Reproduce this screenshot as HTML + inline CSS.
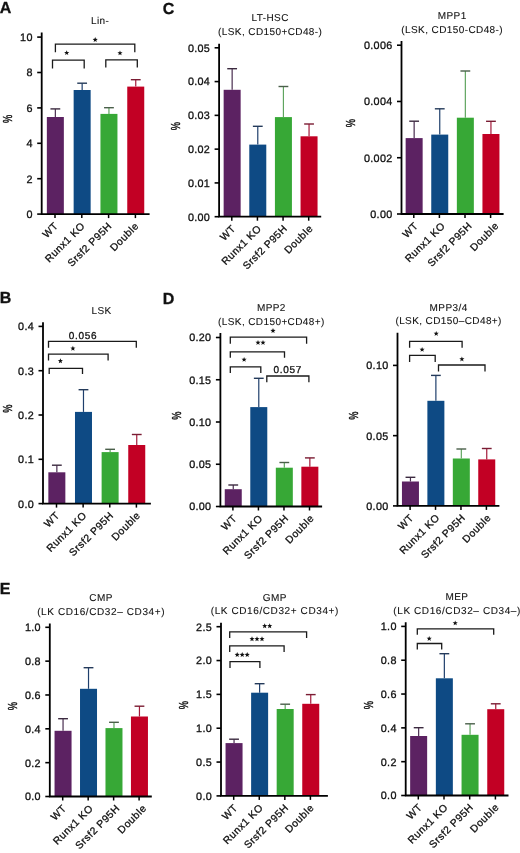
<!DOCTYPE html>
<html><head><meta charset="utf-8"><style>
html,body{margin:0;padding:0;background:#fff;}
svg{display:block;will-change:transform;}
.ti{stroke-width:0.1px;}
text{font-family:"Liberation Sans",sans-serif;fill:#111;text-rendering:geometricPrecision;stroke:#111;stroke-width:0.3px;}
</style></head><body>
<svg width="520" height="853" viewBox="0 0 520 853">
<rect width="520" height="853" fill="#fff"/>
<rect x="46.85" y="117" width="17" height="97.1" fill="#5c2262"/>
<path d="M55.35 117V108.9" stroke="#4a2e50" stroke-width="1.2" fill="none"/>
<path d="M50.45 108.9H60.25" stroke="#3b2a3f" stroke-width="1.4" fill="none"/>
<line x1="55" y1="214.1" x2="55" y2="218.1" stroke="#000" stroke-width="1.5"/>
<text transform="translate(58.4,226.9) rotate(-45)" text-anchor="end" font-size="10.3" letter-spacing="0.5" dx="0.5">WT</text>
<rect x="73.65" y="90" width="17" height="124.1" fill="#0e4a84"/>
<path d="M82.15 90V83.2" stroke="#1f3f6c" stroke-width="1.2" fill="none"/>
<path d="M77.25 83.2H87.05" stroke="#243a5a" stroke-width="1.4" fill="none"/>
<line x1="81.8" y1="214.1" x2="81.8" y2="218.1" stroke="#000" stroke-width="1.5"/>
<text transform="translate(85.27,226.9) rotate(-45)" text-anchor="end" font-size="10.3" letter-spacing="0.5" dx="0.5">Runx1 KO</text>
<rect x="100.45" y="113.9" width="17" height="100.2" fill="#37a836"/>
<path d="M108.95 113.9V107.7" stroke="#5fa55f" stroke-width="1.2" fill="none"/>
<path d="M104.05 107.7H113.85" stroke="#4a5f4a" stroke-width="1.4" fill="none"/>
<line x1="108.6" y1="214.1" x2="108.6" y2="218.1" stroke="#000" stroke-width="1.5"/>
<text transform="translate(112.13,226.9) rotate(-45)" text-anchor="end" font-size="10.3" letter-spacing="0.5" dx="0.5">Srsf2 P95H</text>
<rect x="127.25" y="86.6" width="17" height="127.5" fill="#c20024"/>
<path d="M135.75 86.6V79.7" stroke="#a31a3a" stroke-width="1.2" fill="none"/>
<path d="M130.85 79.7H140.65" stroke="#7a1c33" stroke-width="1.4" fill="none"/>
<line x1="135.4" y1="214.1" x2="135.4" y2="218.1" stroke="#000" stroke-width="1.5"/>
<text transform="translate(139,226.9) rotate(-45)" text-anchor="end" font-size="10.3" letter-spacing="0.5" dx="0.5">Double</text>
<path d="M41.7 32.5V214.1H149.6" stroke="#000" stroke-width="1.8" fill="none"/>
<line x1="37.2" y1="214.1" x2="41.7" y2="214.1" stroke="#000" stroke-width="1.6"/>
<text transform="translate(32.4,218)" text-anchor="end" font-size="10.8" letter-spacing="0.3" dx="0.3">0</text>
<line x1="37.2" y1="178.7" x2="41.7" y2="178.7" stroke="#000" stroke-width="1.6"/>
<text transform="translate(32.4,182.6)" text-anchor="end" font-size="10.8" letter-spacing="0.3" dx="0.3">2</text>
<line x1="37.2" y1="143.3" x2="41.7" y2="143.3" stroke="#000" stroke-width="1.6"/>
<text transform="translate(32.4,147.2)" text-anchor="end" font-size="10.8" letter-spacing="0.3" dx="0.3">4</text>
<line x1="37.2" y1="107.9" x2="41.7" y2="107.9" stroke="#000" stroke-width="1.6"/>
<text transform="translate(32.4,111.8)" text-anchor="end" font-size="10.8" letter-spacing="0.3" dx="0.3">6</text>
<line x1="37.2" y1="72.5" x2="41.7" y2="72.5" stroke="#000" stroke-width="1.6"/>
<text transform="translate(32.4,76.4)" text-anchor="end" font-size="10.8" letter-spacing="0.3" dx="0.3">8</text>
<line x1="37.2" y1="37.1" x2="41.7" y2="37.1" stroke="#000" stroke-width="1.6"/>
<text transform="translate(32.4,41)" text-anchor="end" font-size="10.8" letter-spacing="0.3" dx="0.3">10</text>
<text transform="translate(11.62,118.9) rotate(-90) scale(1,1.4)" text-anchor="middle" font-size="9.3">%</text>
<text class="ti" transform="translate(99.9,24.2)" text-anchor="middle" font-size="10" letter-spacing="0.4" dx="0.2">Lin-</text>
<path d="M55.4 52.2V44.1H134.8V52.2" fill="none" stroke="#1a1a1a" stroke-width="1.3"/>
<polygon points="95.20,37.10 95.88,38.87 97.77,38.97 96.29,40.16 96.79,41.98 95.20,40.95 93.61,41.98 94.11,40.16 92.63,38.97 94.52,38.87" fill="#111"/>
<path d="M52.5 68.5V60.2H84.2V68.5" fill="none" stroke="#1a1a1a" stroke-width="1.3"/>
<polygon points="66.70,50.20 67.38,51.97 69.27,52.07 67.79,53.26 68.29,55.08 66.70,54.05 65.11,55.08 65.61,53.26 64.13,52.07 66.02,51.97" fill="#111"/>
<path d="M105.8 67.5V59.8H137.3V67.5" fill="none" stroke="#1a1a1a" stroke-width="1.3"/>
<polygon points="120.00,50.40 120.68,52.17 122.57,52.27 121.09,53.46 121.59,55.28 120.00,54.25 118.41,55.28 118.91,53.46 117.43,52.27 119.32,52.17" fill="#111"/>
<rect x="223.65" y="89.8" width="17" height="126.9" fill="#5c2262"/>
<path d="M232.15 89.8V68.7" stroke="#4a2e50" stroke-width="1.2" fill="none"/>
<path d="M227.25 68.7H237.05" stroke="#3b2a3f" stroke-width="1.4" fill="none"/>
<line x1="231.8" y1="216.7" x2="231.8" y2="220.7" stroke="#000" stroke-width="1.5"/>
<text transform="translate(235.9,229.5) rotate(-45)" text-anchor="end" font-size="10.3" letter-spacing="0.5" dx="0.5">WT</text>
<rect x="249.28" y="144.6" width="17" height="72.1" fill="#0e4a84"/>
<path d="M257.78 144.6V126.3" stroke="#1f3f6c" stroke-width="1.2" fill="none"/>
<path d="M252.88 126.3H262.68" stroke="#243a5a" stroke-width="1.4" fill="none"/>
<line x1="257.43" y1="216.7" x2="257.43" y2="220.7" stroke="#000" stroke-width="1.5"/>
<text transform="translate(261.7,229.5) rotate(-45)" text-anchor="end" font-size="10.3" letter-spacing="0.5" dx="0.5">Runx1 KO</text>
<rect x="274.92" y="117.1" width="17" height="99.6" fill="#37a836"/>
<path d="M283.42 117.1V86.5" stroke="#5fa55f" stroke-width="1.2" fill="none"/>
<path d="M278.52 86.5H288.32" stroke="#4a5f4a" stroke-width="1.4" fill="none"/>
<line x1="283.07" y1="216.7" x2="283.07" y2="220.7" stroke="#000" stroke-width="1.5"/>
<text transform="translate(287.5,229.5) rotate(-45)" text-anchor="end" font-size="10.3" letter-spacing="0.5" dx="0.5">Srsf2 P95H</text>
<rect x="300.55" y="136.3" width="17" height="80.4" fill="#c20024"/>
<path d="M309.05 136.3V124" stroke="#a31a3a" stroke-width="1.2" fill="none"/>
<path d="M304.15 124H313.95" stroke="#7a1c33" stroke-width="1.4" fill="none"/>
<line x1="308.7" y1="216.7" x2="308.7" y2="220.7" stroke="#000" stroke-width="1.5"/>
<text transform="translate(313.3,229.5) rotate(-45)" text-anchor="end" font-size="10.3" letter-spacing="0.5" dx="0.5">Double</text>
<path d="M219.1 43.8V216.7H321.2" stroke="#000" stroke-width="1.8" fill="none"/>
<line x1="214.6" y1="216.7" x2="219.1" y2="216.7" stroke="#000" stroke-width="1.6"/>
<text transform="translate(209.8,220.6)" text-anchor="end" font-size="10.8" letter-spacing="0.3" dx="0.3">0.00</text>
<line x1="214.6" y1="182.92" x2="219.1" y2="182.92" stroke="#000" stroke-width="1.6"/>
<text transform="translate(209.8,186.82)" text-anchor="end" font-size="10.8" letter-spacing="0.3" dx="0.3">0.01</text>
<line x1="214.6" y1="149.14" x2="219.1" y2="149.14" stroke="#000" stroke-width="1.6"/>
<text transform="translate(209.8,153.04)" text-anchor="end" font-size="10.8" letter-spacing="0.3" dx="0.3">0.02</text>
<line x1="214.6" y1="115.36" x2="219.1" y2="115.36" stroke="#000" stroke-width="1.6"/>
<text transform="translate(209.8,119.26)" text-anchor="end" font-size="10.8" letter-spacing="0.3" dx="0.3">0.03</text>
<line x1="214.6" y1="81.58" x2="219.1" y2="81.58" stroke="#000" stroke-width="1.6"/>
<text transform="translate(209.8,85.48)" text-anchor="end" font-size="10.8" letter-spacing="0.3" dx="0.3">0.04</text>
<line x1="214.6" y1="47.8" x2="219.1" y2="47.8" stroke="#000" stroke-width="1.6"/>
<text transform="translate(209.8,51.7)" text-anchor="end" font-size="10.8" letter-spacing="0.3" dx="0.3">0.05</text>
<text transform="translate(179.72,126) rotate(-90) scale(1,1.4)" text-anchor="middle" font-size="9.3">%</text>
<text class="ti" transform="translate(270,21.3)" text-anchor="middle" font-size="10" letter-spacing="0.4" dx="0.2">LT-HSC</text>
<text class="ti" transform="translate(270,34.7)" text-anchor="middle" font-size="10" letter-spacing="0.4" dx="0.2">(LSK, CD150+CD48-)</text>
<rect x="405.65" y="138.1" width="17" height="75.9" fill="#5c2262"/>
<path d="M414.15 138.1V121.2" stroke="#4a2e50" stroke-width="1.2" fill="none"/>
<path d="M409.25 121.2H419.05" stroke="#3b2a3f" stroke-width="1.4" fill="none"/>
<line x1="413.8" y1="214" x2="413.8" y2="218" stroke="#000" stroke-width="1.5"/>
<text transform="translate(418.4,226.8) rotate(-45)" text-anchor="end" font-size="10.3" letter-spacing="0.5" dx="0.5">WT</text>
<rect x="431.25" y="134.6" width="17" height="79.4" fill="#0e4a84"/>
<path d="M439.75 134.6V108.8" stroke="#1f3f6c" stroke-width="1.2" fill="none"/>
<path d="M434.85 108.8H444.65" stroke="#243a5a" stroke-width="1.4" fill="none"/>
<line x1="439.4" y1="214" x2="439.4" y2="218" stroke="#000" stroke-width="1.5"/>
<text transform="translate(445.3,226.8) rotate(-45)" text-anchor="end" font-size="10.3" letter-spacing="0.5" dx="0.5">Runx1 KO</text>
<rect x="456.85" y="117.7" width="17" height="96.3" fill="#37a836"/>
<path d="M465.35 117.7V71" stroke="#5fa55f" stroke-width="1.2" fill="none"/>
<path d="M460.45 71H470.25" stroke="#4a5f4a" stroke-width="1.4" fill="none"/>
<line x1="465" y1="214" x2="465" y2="218" stroke="#000" stroke-width="1.5"/>
<text transform="translate(472.2,226.8) rotate(-45)" text-anchor="end" font-size="10.3" letter-spacing="0.5" dx="0.5">Srsf2 P95H</text>
<rect x="482.45" y="134" width="17" height="80" fill="#c20024"/>
<path d="M490.95 134V121.3" stroke="#a31a3a" stroke-width="1.2" fill="none"/>
<path d="M486.05 121.3H495.85" stroke="#7a1c33" stroke-width="1.4" fill="none"/>
<line x1="490.6" y1="214" x2="490.6" y2="218" stroke="#000" stroke-width="1.5"/>
<text transform="translate(499.1,226.8) rotate(-45)" text-anchor="end" font-size="10.3" letter-spacing="0.5" dx="0.5">Double</text>
<path d="M401.5 41V214H503.6" stroke="#000" stroke-width="1.8" fill="none"/>
<line x1="397" y1="214" x2="401.5" y2="214" stroke="#000" stroke-width="1.6"/>
<text transform="translate(392.2,217.9)" text-anchor="end" font-size="10.8" letter-spacing="0.3" dx="0.3">0.00</text>
<line x1="397" y1="157.73" x2="401.5" y2="157.73" stroke="#000" stroke-width="1.6"/>
<text transform="translate(392.2,161.63)" text-anchor="end" font-size="10.8" letter-spacing="0.3" dx="0.3">0.002</text>
<line x1="397" y1="101.47" x2="401.5" y2="101.47" stroke="#000" stroke-width="1.6"/>
<text transform="translate(392.2,105.37)" text-anchor="end" font-size="10.8" letter-spacing="0.3" dx="0.3">0.004</text>
<line x1="397" y1="45.2" x2="401.5" y2="45.2" stroke="#000" stroke-width="1.6"/>
<text transform="translate(392.2,49.1)" text-anchor="end" font-size="10.8" letter-spacing="0.3" dx="0.3">0.006</text>
<text transform="translate(355.32,123) rotate(-90) scale(1,1.4)" text-anchor="middle" font-size="9.3">%</text>
<text class="ti" transform="translate(452,18.7)" text-anchor="middle" font-size="10" letter-spacing="0.4" dx="0.2">MPP1</text>
<text class="ti" transform="translate(452,32.6)" text-anchor="middle" font-size="10" letter-spacing="0.4" dx="0.2">(LSK, CD150-CD48-)</text>
<rect x="48.35" y="472.3" width="17" height="31.3" fill="#5c2262"/>
<path d="M56.85 472.3V465.2" stroke="#4a2e50" stroke-width="1.2" fill="none"/>
<path d="M51.95 465.2H61.75" stroke="#3b2a3f" stroke-width="1.4" fill="none"/>
<line x1="56.5" y1="503.6" x2="56.5" y2="507.6" stroke="#000" stroke-width="1.5"/>
<text transform="translate(59.9,516.4) rotate(-45)" text-anchor="end" font-size="10.3" letter-spacing="0.5" dx="0.5">WT</text>
<rect x="74.98" y="411.9" width="17" height="91.7" fill="#0e4a84"/>
<path d="M83.48 411.9V389.7" stroke="#1f3f6c" stroke-width="1.2" fill="none"/>
<path d="M78.58 389.7H88.38" stroke="#243a5a" stroke-width="1.4" fill="none"/>
<line x1="83.13" y1="503.6" x2="83.13" y2="507.6" stroke="#000" stroke-width="1.5"/>
<text transform="translate(86.8,516.4) rotate(-45)" text-anchor="end" font-size="10.3" letter-spacing="0.5" dx="0.5">Runx1 KO</text>
<rect x="101.62" y="452.1" width="17" height="51.5" fill="#37a836"/>
<path d="M110.12 452.1V449.3" stroke="#5fa55f" stroke-width="1.2" fill="none"/>
<path d="M105.22 449.3H115.02" stroke="#4a5f4a" stroke-width="1.4" fill="none"/>
<line x1="109.77" y1="503.6" x2="109.77" y2="507.6" stroke="#000" stroke-width="1.5"/>
<text transform="translate(113.7,516.4) rotate(-45)" text-anchor="end" font-size="10.3" letter-spacing="0.5" dx="0.5">Srsf2 P95H</text>
<rect x="128.25" y="445" width="17" height="58.6" fill="#c20024"/>
<path d="M136.75 445V434.5" stroke="#a31a3a" stroke-width="1.2" fill="none"/>
<path d="M131.85 434.5H141.65" stroke="#7a1c33" stroke-width="1.4" fill="none"/>
<line x1="136.4" y1="503.6" x2="136.4" y2="507.6" stroke="#000" stroke-width="1.5"/>
<text transform="translate(140.6,516.4) rotate(-45)" text-anchor="end" font-size="10.3" letter-spacing="0.5" dx="0.5">Double</text>
<path d="M43 322.3V503.6H150.9" stroke="#000" stroke-width="1.8" fill="none"/>
<line x1="38.5" y1="503.6" x2="43" y2="503.6" stroke="#000" stroke-width="1.6"/>
<text transform="translate(33.7,507.5)" text-anchor="end" font-size="10.8" letter-spacing="0.3" dx="0.3">0.0</text>
<line x1="38.5" y1="459.3" x2="43" y2="459.3" stroke="#000" stroke-width="1.6"/>
<text transform="translate(33.7,463.2)" text-anchor="end" font-size="10.8" letter-spacing="0.3" dx="0.3">0.1</text>
<line x1="38.5" y1="415" x2="43" y2="415" stroke="#000" stroke-width="1.6"/>
<text transform="translate(33.7,418.9)" text-anchor="end" font-size="10.8" letter-spacing="0.3" dx="0.3">0.2</text>
<line x1="38.5" y1="370.7" x2="43" y2="370.7" stroke="#000" stroke-width="1.6"/>
<text transform="translate(33.7,374.6)" text-anchor="end" font-size="10.8" letter-spacing="0.3" dx="0.3">0.3</text>
<line x1="38.5" y1="326.4" x2="43" y2="326.4" stroke="#000" stroke-width="1.6"/>
<text transform="translate(33.7,330.3)" text-anchor="end" font-size="10.8" letter-spacing="0.3" dx="0.3">0.4</text>
<text transform="translate(11.62,408.5) rotate(-90) scale(1,1.4)" text-anchor="middle" font-size="9.3">%</text>
<text class="ti" transform="translate(101.3,313.8)" text-anchor="middle" font-size="10" letter-spacing="0.4" dx="0.2">LSK</text>
<path d="M48.5 347.7V341.4H136.3V347.7" fill="none" stroke="#1a1a1a" stroke-width="1.3"/>
<text transform="translate(82.7,338.6)" text-anchor="middle" font-size="10" letter-spacing="0.7" dx="0.35">0.056</text>
<path d="M48.5 360.6V354.2H108.1V360.6" fill="none" stroke="#1a1a1a" stroke-width="1.3"/>
<polygon points="72.90,345.80 73.58,347.57 75.47,347.67 73.99,348.86 74.49,350.68 72.90,349.65 71.31,350.68 71.81,348.86 70.33,347.67 72.22,347.57" fill="#111"/>
<path d="M49.2 374V368.3H82.5V374" fill="none" stroke="#1a1a1a" stroke-width="1.3"/>
<polygon points="60.40,358.30 61.08,360.07 62.97,360.17 61.49,361.36 61.99,363.18 60.40,362.15 58.81,363.18 59.31,361.36 57.83,360.17 59.72,360.07" fill="#111"/>
<rect x="224.75" y="489.2" width="17" height="17.3" fill="#5c2262"/>
<path d="M233.25 489.2V485" stroke="#4a2e50" stroke-width="1.2" fill="none"/>
<path d="M228.35 485H238.15" stroke="#3b2a3f" stroke-width="1.4" fill="none"/>
<line x1="232.9" y1="506.5" x2="232.9" y2="510.5" stroke="#000" stroke-width="1.5"/>
<text transform="translate(237.3,519.3) rotate(-45)" text-anchor="end" font-size="10.3" letter-spacing="0.5" dx="0.5">WT</text>
<rect x="250.28" y="407.1" width="17" height="99.4" fill="#0e4a84"/>
<path d="M258.78 407.1V378.3" stroke="#1f3f6c" stroke-width="1.2" fill="none"/>
<path d="M253.88 378.3H263.68" stroke="#243a5a" stroke-width="1.4" fill="none"/>
<line x1="258.43" y1="506.5" x2="258.43" y2="510.5" stroke="#000" stroke-width="1.5"/>
<text transform="translate(263,519.3) rotate(-45)" text-anchor="end" font-size="10.3" letter-spacing="0.5" dx="0.5">Runx1 KO</text>
<rect x="275.82" y="467.7" width="17" height="38.8" fill="#37a836"/>
<path d="M284.32 467.7V462.5" stroke="#5fa55f" stroke-width="1.2" fill="none"/>
<path d="M279.42 462.5H289.22" stroke="#4a5f4a" stroke-width="1.4" fill="none"/>
<line x1="283.97" y1="506.5" x2="283.97" y2="510.5" stroke="#000" stroke-width="1.5"/>
<text transform="translate(288.7,519.3) rotate(-45)" text-anchor="end" font-size="10.3" letter-spacing="0.5" dx="0.5">Srsf2 P95H</text>
<rect x="301.35" y="466.7" width="17" height="39.8" fill="#c20024"/>
<path d="M309.85 466.7V457.9" stroke="#a31a3a" stroke-width="1.2" fill="none"/>
<path d="M304.95 457.9H314.75" stroke="#7a1c33" stroke-width="1.4" fill="none"/>
<line x1="309.5" y1="506.5" x2="309.5" y2="510.5" stroke="#000" stroke-width="1.5"/>
<text transform="translate(314.4,519.3) rotate(-45)" text-anchor="end" font-size="10.3" letter-spacing="0.5" dx="0.5">Double</text>
<path d="M220.4 333.1V506.5H322.1" stroke="#000" stroke-width="1.8" fill="none"/>
<line x1="215.9" y1="506.5" x2="220.4" y2="506.5" stroke="#000" stroke-width="1.6"/>
<text transform="translate(211.1,510.4)" text-anchor="end" font-size="10.8" letter-spacing="0.3" dx="0.3">0.00</text>
<line x1="215.9" y1="464.25" x2="220.4" y2="464.25" stroke="#000" stroke-width="1.6"/>
<text transform="translate(211.1,468.15)" text-anchor="end" font-size="10.8" letter-spacing="0.3" dx="0.3">0.05</text>
<line x1="215.9" y1="422" x2="220.4" y2="422" stroke="#000" stroke-width="1.6"/>
<text transform="translate(211.1,425.9)" text-anchor="end" font-size="10.8" letter-spacing="0.3" dx="0.3">0.10</text>
<line x1="215.9" y1="379.75" x2="220.4" y2="379.75" stroke="#000" stroke-width="1.6"/>
<text transform="translate(211.1,383.65)" text-anchor="end" font-size="10.8" letter-spacing="0.3" dx="0.3">0.15</text>
<line x1="215.9" y1="337.5" x2="220.4" y2="337.5" stroke="#000" stroke-width="1.6"/>
<text transform="translate(211.1,341.4)" text-anchor="end" font-size="10.8" letter-spacing="0.3" dx="0.3">0.20</text>
<text transform="translate(180.92,415.5) rotate(-90) scale(1,1.4)" text-anchor="middle" font-size="9.3">%</text>
<text class="ti" transform="translate(271.2,311.3)" text-anchor="middle" font-size="10" letter-spacing="0.4" dx="0.2">MPP2</text>
<text class="ti" transform="translate(271.2,325)" text-anchor="middle" font-size="10" letter-spacing="0.4" dx="0.2">(LSK, CD150+CD48+)</text>
<path d="M230.3 343.7V337.1H306.6V343.7" fill="none" stroke="#1a1a1a" stroke-width="1.3"/>
<polygon points="273.00,328.10 273.68,329.87 275.57,329.97 274.09,331.16 274.59,332.98 273.00,331.95 271.41,332.98 271.91,331.16 270.43,329.97 272.32,329.87" fill="#111"/>
<path d="M230.3 357.7V351.9H284.5V357.7" fill="none" stroke="#1a1a1a" stroke-width="1.3"/>
<polygon points="258.00,340.00 258.68,341.77 260.57,341.87 259.09,343.06 259.59,344.88 258.00,343.85 256.41,344.88 256.91,343.06 255.43,341.87 257.32,341.77" fill="#111"/>
<polygon points="263.00,340.00 263.68,341.77 265.57,341.87 264.09,343.06 264.59,344.88 263.00,343.85 261.41,344.88 261.91,343.06 260.43,341.87 262.32,341.77" fill="#111"/>
<path d="M230.3 373.1V366.9H260.8V373.1" fill="none" stroke="#1a1a1a" stroke-width="1.3"/>
<polygon points="244.10,356.90 244.78,358.67 246.67,358.77 245.19,359.96 245.69,361.78 244.10,360.75 242.51,361.78 243.01,359.96 241.53,358.77 243.42,358.67" fill="#111"/>
<path d="M266.8 382.3V376H308.9V382.3" fill="none" stroke="#1a1a1a" stroke-width="1.3"/>
<text transform="translate(287.5,373.3)" text-anchor="middle" font-size="10" letter-spacing="0.7" dx="0.35">0.057</text>
<rect x="401.95" y="481.5" width="17" height="24.4" fill="#5c2262"/>
<path d="M410.45 481.5V477.3" stroke="#4a2e50" stroke-width="1.2" fill="none"/>
<path d="M405.55 477.3H415.35" stroke="#3b2a3f" stroke-width="1.4" fill="none"/>
<line x1="410.1" y1="505.9" x2="410.1" y2="509.9" stroke="#000" stroke-width="1.5"/>
<text transform="translate(414,518.7) rotate(-45)" text-anchor="end" font-size="10.3" letter-spacing="0.5" dx="0.5">WT</text>
<rect x="427.38" y="400.8" width="17" height="105.1" fill="#0e4a84"/>
<path d="M435.88 400.8V375.4" stroke="#1f3f6c" stroke-width="1.2" fill="none"/>
<path d="M430.98 375.4H440.78" stroke="#243a5a" stroke-width="1.4" fill="none"/>
<line x1="435.53" y1="505.9" x2="435.53" y2="509.9" stroke="#000" stroke-width="1.5"/>
<text transform="translate(439.8,518.7) rotate(-45)" text-anchor="end" font-size="10.3" letter-spacing="0.5" dx="0.5">Runx1 KO</text>
<rect x="452.82" y="458.5" width="17" height="47.4" fill="#37a836"/>
<path d="M461.32 458.5V449" stroke="#5fa55f" stroke-width="1.2" fill="none"/>
<path d="M456.42 449H466.22" stroke="#4a5f4a" stroke-width="1.4" fill="none"/>
<line x1="460.97" y1="505.9" x2="460.97" y2="509.9" stroke="#000" stroke-width="1.5"/>
<text transform="translate(465.6,518.7) rotate(-45)" text-anchor="end" font-size="10.3" letter-spacing="0.5" dx="0.5">Srsf2 P95H</text>
<rect x="478.25" y="459.4" width="17" height="46.5" fill="#c20024"/>
<path d="M486.75 459.4V448.5" stroke="#a31a3a" stroke-width="1.2" fill="none"/>
<path d="M481.85 448.5H491.65" stroke="#7a1c33" stroke-width="1.4" fill="none"/>
<line x1="486.4" y1="505.9" x2="486.4" y2="509.9" stroke="#000" stroke-width="1.5"/>
<text transform="translate(491.4,518.7) rotate(-45)" text-anchor="end" font-size="10.3" letter-spacing="0.5" dx="0.5">Double</text>
<path d="M397.5 332.8V505.9H499.4" stroke="#000" stroke-width="1.8" fill="none"/>
<line x1="393" y1="505.9" x2="397.5" y2="505.9" stroke="#000" stroke-width="1.6"/>
<text transform="translate(388.2,509.8)" text-anchor="end" font-size="10.8" letter-spacing="0.3" dx="0.3">0.00</text>
<line x1="393" y1="435.65" x2="397.5" y2="435.65" stroke="#000" stroke-width="1.6"/>
<text transform="translate(388.2,439.55)" text-anchor="end" font-size="10.8" letter-spacing="0.3" dx="0.3">0.05</text>
<line x1="393" y1="365.4" x2="397.5" y2="365.4" stroke="#000" stroke-width="1.6"/>
<text transform="translate(388.2,369.3)" text-anchor="end" font-size="10.8" letter-spacing="0.3" dx="0.3">0.10</text>
<text transform="translate(357.92,415.5) rotate(-90) scale(1,1.4)" text-anchor="middle" font-size="9.3">%</text>
<text class="ti" transform="translate(448.4,310.9)" text-anchor="middle" font-size="10" letter-spacing="0.4" dx="0.2">MPP3/4</text>
<text class="ti" transform="translate(448.4,324.3)" text-anchor="middle" font-size="10" letter-spacing="0.4" dx="0.2">(LSK, CD150–CD48+)</text>
<path d="M409.6 347.7V341.3H462.1V347.7" fill="none" stroke="#1a1a1a" stroke-width="1.3"/>
<polygon points="436.20,331.00 436.88,332.77 438.77,332.87 437.29,334.06 437.79,335.88 436.20,334.85 434.61,335.88 435.11,334.06 433.63,332.87 435.52,332.77" fill="#111"/>
<path d="M409.6 361.9V355.4H435.2V361.9" fill="none" stroke="#1a1a1a" stroke-width="1.3"/>
<polygon points="422.10,346.90 422.78,348.67 424.67,348.77 423.19,349.96 423.69,351.78 422.10,350.75 420.51,351.78 421.01,349.96 419.53,348.77 421.42,348.67" fill="#111"/>
<path d="M438.5 371.5V365H485V371.5" fill="none" stroke="#1a1a1a" stroke-width="1.3"/>
<polygon points="461.90,356.50 462.58,358.27 464.47,358.37 462.99,359.56 463.49,361.38 461.90,360.35 460.31,361.38 460.81,359.56 459.33,358.37 461.22,358.27" fill="#111"/>
<rect x="54.55" y="730.8" width="17" height="65.7" fill="#5c2262"/>
<path d="M63.05 730.8V718.7" stroke="#4a2e50" stroke-width="1.2" fill="none"/>
<path d="M58.15 718.7H67.95" stroke="#3b2a3f" stroke-width="1.4" fill="none"/>
<line x1="62.7" y1="796.5" x2="62.7" y2="800.5" stroke="#000" stroke-width="1.5"/>
<text transform="translate(66.6,809.3) rotate(-45)" text-anchor="end" font-size="10.3" letter-spacing="0.5" dx="0.5">WT</text>
<rect x="80.02" y="688.8" width="17" height="107.7" fill="#0e4a84"/>
<path d="M88.52 688.8V667.7" stroke="#1f3f6c" stroke-width="1.2" fill="none"/>
<path d="M83.62 667.7H93.42" stroke="#243a5a" stroke-width="1.4" fill="none"/>
<line x1="88.17" y1="796.5" x2="88.17" y2="800.5" stroke="#000" stroke-width="1.5"/>
<text transform="translate(93.3,809.3) rotate(-45)" text-anchor="end" font-size="10.3" letter-spacing="0.5" dx="0.5">Runx1 KO</text>
<rect x="105.48" y="728.1" width="17" height="68.4" fill="#37a836"/>
<path d="M113.98 728.1V722.3" stroke="#5fa55f" stroke-width="1.2" fill="none"/>
<path d="M109.08 722.3H118.88" stroke="#4a5f4a" stroke-width="1.4" fill="none"/>
<line x1="113.63" y1="796.5" x2="113.63" y2="800.5" stroke="#000" stroke-width="1.5"/>
<text transform="translate(120,809.3) rotate(-45)" text-anchor="end" font-size="10.3" letter-spacing="0.5" dx="0.5">Srsf2 P95H</text>
<rect x="130.95" y="716.5" width="17" height="80" fill="#c20024"/>
<path d="M139.45 716.5V706.2" stroke="#a31a3a" stroke-width="1.2" fill="none"/>
<path d="M134.55 706.2H144.35" stroke="#7a1c33" stroke-width="1.4" fill="none"/>
<line x1="139.1" y1="796.5" x2="139.1" y2="800.5" stroke="#000" stroke-width="1.5"/>
<text transform="translate(146.7,809.3) rotate(-45)" text-anchor="end" font-size="10.3" letter-spacing="0.5" dx="0.5">Double</text>
<path d="M49.8 623.5V796.5H151.8" stroke="#000" stroke-width="1.8" fill="none"/>
<line x1="45.3" y1="796.5" x2="49.8" y2="796.5" stroke="#000" stroke-width="1.6"/>
<text transform="translate(40.5,800.4)" text-anchor="end" font-size="10.8" letter-spacing="0.3" dx="0.3">0.0</text>
<line x1="45.3" y1="762.66" x2="49.8" y2="762.66" stroke="#000" stroke-width="1.6"/>
<text transform="translate(40.5,766.56)" text-anchor="end" font-size="10.8" letter-spacing="0.3" dx="0.3">0.2</text>
<line x1="45.3" y1="728.82" x2="49.8" y2="728.82" stroke="#000" stroke-width="1.6"/>
<text transform="translate(40.5,732.72)" text-anchor="end" font-size="10.8" letter-spacing="0.3" dx="0.3">0.4</text>
<line x1="45.3" y1="694.98" x2="49.8" y2="694.98" stroke="#000" stroke-width="1.6"/>
<text transform="translate(40.5,698.88)" text-anchor="end" font-size="10.8" letter-spacing="0.3" dx="0.3">0.6</text>
<line x1="45.3" y1="661.14" x2="49.8" y2="661.14" stroke="#000" stroke-width="1.6"/>
<text transform="translate(40.5,665.04)" text-anchor="end" font-size="10.8" letter-spacing="0.3" dx="0.3">0.8</text>
<line x1="45.3" y1="627.3" x2="49.8" y2="627.3" stroke="#000" stroke-width="1.6"/>
<text transform="translate(40.5,631.2)" text-anchor="end" font-size="10.8" letter-spacing="0.3" dx="0.3">1.0</text>
<text transform="translate(17.42,706) rotate(-90) scale(1,1.4)" text-anchor="middle" font-size="9.3">%</text>
<text class="ti" transform="translate(100.8,601.3)" text-anchor="middle" font-size="10" letter-spacing="0.4" dx="0.2">CMP</text>
<text class="ti" transform="translate(100.8,615)" text-anchor="middle" font-size="10" letter-spacing="0.6" dx="0.3">(LK CD16/CD32– CD34+)</text>
<rect x="225.55" y="743.1" width="17" height="52.8" fill="#5c2262"/>
<path d="M234.05 743.1V739.2" stroke="#4a2e50" stroke-width="1.2" fill="none"/>
<path d="M229.15 739.2H238.95" stroke="#3b2a3f" stroke-width="1.4" fill="none"/>
<line x1="233.7" y1="795.9" x2="233.7" y2="799.9" stroke="#000" stroke-width="1.5"/>
<text transform="translate(237.9,808.7) rotate(-45)" text-anchor="end" font-size="10.3" letter-spacing="0.5" dx="0.5">WT</text>
<rect x="251.12" y="692.7" width="17" height="103.2" fill="#0e4a84"/>
<path d="M259.62 692.7V683.7" stroke="#1f3f6c" stroke-width="1.2" fill="none"/>
<path d="M254.72 683.7H264.52" stroke="#243a5a" stroke-width="1.4" fill="none"/>
<line x1="259.27" y1="795.9" x2="259.27" y2="799.9" stroke="#000" stroke-width="1.5"/>
<text transform="translate(263.33,808.7) rotate(-45)" text-anchor="end" font-size="10.3" letter-spacing="0.5" dx="0.5">Runx1 KO</text>
<rect x="276.68" y="709" width="17" height="86.9" fill="#37a836"/>
<path d="M285.18 709V704.2" stroke="#5fa55f" stroke-width="1.2" fill="none"/>
<path d="M280.28 704.2H290.08" stroke="#4a5f4a" stroke-width="1.4" fill="none"/>
<line x1="284.83" y1="795.9" x2="284.83" y2="799.9" stroke="#000" stroke-width="1.5"/>
<text transform="translate(288.77,808.7) rotate(-45)" text-anchor="end" font-size="10.3" letter-spacing="0.5" dx="0.5">Srsf2 P95H</text>
<rect x="302.25" y="703.8" width="17" height="92.1" fill="#c20024"/>
<path d="M310.75 703.8V694.6" stroke="#a31a3a" stroke-width="1.2" fill="none"/>
<path d="M305.85 694.6H315.65" stroke="#7a1c33" stroke-width="1.4" fill="none"/>
<line x1="310.4" y1="795.9" x2="310.4" y2="799.9" stroke="#000" stroke-width="1.5"/>
<text transform="translate(314.2,808.7) rotate(-45)" text-anchor="end" font-size="10.3" letter-spacing="0.5" dx="0.5">Double</text>
<path d="M221 622.7V795.9H327.9" stroke="#000" stroke-width="1.8" fill="none"/>
<line x1="216.5" y1="795.9" x2="221" y2="795.9" stroke="#000" stroke-width="1.6"/>
<text transform="translate(211.7,799.8)" text-anchor="end" font-size="10.8" letter-spacing="0.3" dx="0.3">0.0</text>
<line x1="216.5" y1="762.06" x2="221" y2="762.06" stroke="#000" stroke-width="1.6"/>
<text transform="translate(211.7,765.96)" text-anchor="end" font-size="10.8" letter-spacing="0.3" dx="0.3">0.5</text>
<line x1="216.5" y1="728.22" x2="221" y2="728.22" stroke="#000" stroke-width="1.6"/>
<text transform="translate(211.7,732.12)" text-anchor="end" font-size="10.8" letter-spacing="0.3" dx="0.3">1.0</text>
<line x1="216.5" y1="694.38" x2="221" y2="694.38" stroke="#000" stroke-width="1.6"/>
<text transform="translate(211.7,698.28)" text-anchor="end" font-size="10.8" letter-spacing="0.3" dx="0.3">1.5</text>
<line x1="216.5" y1="660.54" x2="221" y2="660.54" stroke="#000" stroke-width="1.6"/>
<text transform="translate(211.7,664.44)" text-anchor="end" font-size="10.8" letter-spacing="0.3" dx="0.3">2.0</text>
<line x1="216.5" y1="626.7" x2="221" y2="626.7" stroke="#000" stroke-width="1.6"/>
<text transform="translate(211.7,630.6)" text-anchor="end" font-size="10.8" letter-spacing="0.3" dx="0.3">2.5</text>
<text transform="translate(188.42,705.2) rotate(-90) scale(1,1.4)" text-anchor="middle" font-size="9.3">%</text>
<text class="ti" transform="translate(274.5,600.8)" text-anchor="middle" font-size="10" letter-spacing="0.4" dx="0.2">GMP</text>
<text class="ti" transform="translate(274.5,614.3)" text-anchor="middle" font-size="10" letter-spacing="0.6" dx="0.3">(LK CD16/CD32+ CD34+)</text>
<path d="M229.7 638.1V631.9H306.6V638.1" fill="none" stroke="#1a1a1a" stroke-width="1.3"/>
<polygon points="264.70,623.30 265.38,625.07 267.27,625.17 265.79,626.36 266.29,628.18 264.70,627.15 263.11,628.18 263.61,626.36 262.13,625.17 264.02,625.07" fill="#111"/>
<polygon points="269.70,623.30 270.38,625.07 272.27,625.17 270.79,626.36 271.29,628.18 269.70,627.15 268.11,628.18 268.61,626.36 267.13,625.17 269.02,625.07" fill="#111"/>
<path d="M229.7 652.1V645.8H284.1V652.1" fill="none" stroke="#1a1a1a" stroke-width="1.3"/>
<polygon points="252.00,636.30 252.68,638.07 254.57,638.17 253.09,639.36 253.59,641.18 252.00,640.15 250.41,641.18 250.91,639.36 249.43,638.17 251.32,638.07" fill="#111"/>
<polygon points="257.00,636.30 257.68,638.07 259.57,638.17 258.09,639.36 258.59,641.18 257.00,640.15 255.41,641.18 255.91,639.36 254.43,638.17 256.32,638.07" fill="#111"/>
<polygon points="262.00,636.30 262.68,638.07 264.57,638.17 263.09,639.36 263.59,641.18 262.00,640.15 260.41,641.18 260.91,639.36 259.43,638.17 261.32,638.07" fill="#111"/>
<path d="M230 667.9V661.7H259.9V667.9" fill="none" stroke="#1a1a1a" stroke-width="1.3"/>
<polygon points="237.20,652.10 237.88,653.87 239.77,653.97 238.29,655.16 238.79,656.98 237.20,655.95 235.61,656.98 236.11,655.16 234.63,653.97 236.52,653.87" fill="#111"/>
<polygon points="242.20,652.10 242.88,653.87 244.77,653.97 243.29,655.16 243.79,656.98 242.20,655.95 240.61,656.98 241.11,655.16 239.63,653.97 241.52,653.87" fill="#111"/>
<polygon points="247.20,652.10 247.88,653.87 249.77,653.97 248.29,655.16 248.79,656.98 247.20,655.95 245.61,656.98 246.11,655.16 244.63,653.97 246.52,653.87" fill="#111"/>
<rect x="410.15" y="736" width="17" height="59.5" fill="#5c2262"/>
<path d="M418.65 736V727.7" stroke="#4a2e50" stroke-width="1.2" fill="none"/>
<path d="M413.75 727.7H423.55" stroke="#3b2a3f" stroke-width="1.4" fill="none"/>
<line x1="418.3" y1="795.5" x2="418.3" y2="799.5" stroke="#000" stroke-width="1.5"/>
<text transform="translate(422.5,808.3) rotate(-45)" text-anchor="end" font-size="10.3" letter-spacing="0.5" dx="0.5">WT</text>
<rect x="435.85" y="678.3" width="17" height="117.2" fill="#0e4a84"/>
<path d="M444.35 678.3V653.7" stroke="#1f3f6c" stroke-width="1.2" fill="none"/>
<path d="M439.45 653.7H449.25" stroke="#243a5a" stroke-width="1.4" fill="none"/>
<line x1="444" y1="795.5" x2="444" y2="799.5" stroke="#000" stroke-width="1.5"/>
<text transform="translate(448.07,808.3) rotate(-45)" text-anchor="end" font-size="10.3" letter-spacing="0.5" dx="0.5">Runx1 KO</text>
<rect x="461.55" y="734.8" width="17" height="60.7" fill="#37a836"/>
<path d="M470.05 734.8V723.8" stroke="#5fa55f" stroke-width="1.2" fill="none"/>
<path d="M465.15 723.8H474.95" stroke="#4a5f4a" stroke-width="1.4" fill="none"/>
<line x1="469.7" y1="795.5" x2="469.7" y2="799.5" stroke="#000" stroke-width="1.5"/>
<text transform="translate(473.63,808.3) rotate(-45)" text-anchor="end" font-size="10.3" letter-spacing="0.5" dx="0.5">Srsf2 P95H</text>
<rect x="487.25" y="709.2" width="17" height="86.3" fill="#c20024"/>
<path d="M495.75 709.2V703.8" stroke="#a31a3a" stroke-width="1.2" fill="none"/>
<path d="M490.85 703.8H500.65" stroke="#7a1c33" stroke-width="1.4" fill="none"/>
<line x1="495.4" y1="795.5" x2="495.4" y2="799.5" stroke="#000" stroke-width="1.5"/>
<text transform="translate(499.2,808.3) rotate(-45)" text-anchor="end" font-size="10.3" letter-spacing="0.5" dx="0.5">Double</text>
<path d="M405.7 622.3V795.5H508.5" stroke="#000" stroke-width="1.8" fill="none"/>
<line x1="401.2" y1="795.5" x2="405.7" y2="795.5" stroke="#000" stroke-width="1.6"/>
<text transform="translate(396.4,799.4)" text-anchor="end" font-size="10.8" letter-spacing="0.3" dx="0.3">0.0</text>
<line x1="401.2" y1="761.68" x2="405.7" y2="761.68" stroke="#000" stroke-width="1.6"/>
<text transform="translate(396.4,765.58)" text-anchor="end" font-size="10.8" letter-spacing="0.3" dx="0.3">0.2</text>
<line x1="401.2" y1="727.86" x2="405.7" y2="727.86" stroke="#000" stroke-width="1.6"/>
<text transform="translate(396.4,731.76)" text-anchor="end" font-size="10.8" letter-spacing="0.3" dx="0.3">0.4</text>
<line x1="401.2" y1="694.04" x2="405.7" y2="694.04" stroke="#000" stroke-width="1.6"/>
<text transform="translate(396.4,697.94)" text-anchor="end" font-size="10.8" letter-spacing="0.3" dx="0.3">0.6</text>
<line x1="401.2" y1="660.22" x2="405.7" y2="660.22" stroke="#000" stroke-width="1.6"/>
<text transform="translate(396.4,664.12)" text-anchor="end" font-size="10.8" letter-spacing="0.3" dx="0.3">0.8</text>
<line x1="401.2" y1="626.4" x2="405.7" y2="626.4" stroke="#000" stroke-width="1.6"/>
<text transform="translate(396.4,630.3)" text-anchor="end" font-size="10.8" letter-spacing="0.3" dx="0.3">1.0</text>
<text transform="translate(372.92,705) rotate(-90) scale(1,1.4)" text-anchor="middle" font-size="9.3">%</text>
<text class="ti" transform="translate(456.8,600.4)" text-anchor="middle" font-size="10" letter-spacing="0.4" dx="0.2">MEP</text>
<text class="ti" transform="translate(456.8,614.2)" text-anchor="middle" font-size="10" letter-spacing="0.6" dx="0.3">(LK CD16/CD32– CD34–)</text>
<path d="M417.3 634.8V628.8H493.7V634.8" fill="none" stroke="#1a1a1a" stroke-width="1.3"/>
<polygon points="455.20,620.40 455.88,622.17 457.77,622.27 456.29,623.46 456.79,625.28 455.20,624.25 453.61,625.28 454.11,623.46 452.63,622.27 454.52,622.17" fill="#111"/>
<path d="M417.3 649.6V643.5H441.7V649.6" fill="none" stroke="#1a1a1a" stroke-width="1.3"/>
<polygon points="429.20,636.00 429.88,637.77 431.77,637.87 430.29,639.06 430.79,640.88 429.20,639.85 427.61,640.88 428.11,639.06 426.63,637.87 428.52,637.77" fill="#111"/>
<text transform="translate(-0.3,13.3)" text-anchor="start" font-size="16" font-weight="bold">A</text>
<text transform="translate(162.8,13.9)" text-anchor="start" font-size="16" font-weight="bold">C</text>
<text transform="translate(-0.2,303.3)" text-anchor="start" font-size="16" font-weight="bold">B</text>
<text transform="translate(162.8,303.6)" text-anchor="start" font-size="16" font-weight="bold">D</text>
<text transform="translate(-0.3,593.8)" text-anchor="start" font-size="16" font-weight="bold">E</text>
</svg></body></html>
